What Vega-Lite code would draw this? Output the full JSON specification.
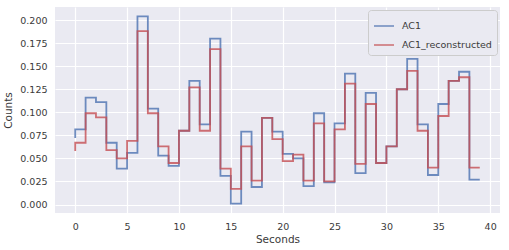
{
  "$schema": "https://vega.github.io/schema/vega-lite/v6.json",
  "autosize": "none",
  "width": 445,
  "height": 206,
  "padding": {"left": 55, "top": 7, "right": 9, "bottom": 37},
  "background": "white",
  "config": {
    "view": {"fill": "#EAEAF2", "stroke": null},
    "font": "DejaVu Sans",
    "axis": {
      "domain": false,
      "ticks": false,
      "grid": true,
      "gridColor": "white",
      "gridWidth": 1.2,
      "labelFont": "DejaVu Sans",
      "labelFontSize": 9.5,
      "labelColor": "#3a3a3a",
      "titleFont": "DejaVu Sans",
      "titleFontSize": 10.5,
      "titleFontWeight": "normal",
      "titleColor": "#3a3a3a",
      "labelPadding": 8
    },
    "legend": {
      "orient": "top-right",
      "offset": 3,
      "fillColor": "#EAEAF2",
      "strokeColor": "#CCCCCC",
      "cornerRadius": 3,
      "padding": 5,
      "labelFont": "DejaVu Sans",
      "labelFontSize": 9.5,
      "labelColor": "#3a3a3a",
      "symbolType": "stroke",
      "symbolSize": 400,
      "symbolStrokeWidth": 1.5,
      "labelOffset": 7,
      "rowPadding": 3
    }
  },
  "data": {
    "values": [
      {"t":0,"series":"AC1","v":0.072},{"t":1,"series":"AC1","v":0.0815},{"t":2,"series":"AC1","v":0.116},{"t":3,"series":"AC1","v":0.111},{"t":4,"series":"AC1","v":0.067},
      {"t":5,"series":"AC1","v":0.039},{"t":6,"series":"AC1","v":0.056},{"t":7,"series":"AC1","v":0.204},{"t":8,"series":"AC1","v":0.104},{"t":9,"series":"AC1","v":0.053},
      {"t":10,"series":"AC1","v":0.042},{"t":11,"series":"AC1","v":0.080},{"t":12,"series":"AC1","v":0.134},{"t":13,"series":"AC1","v":0.087},{"t":14,"series":"AC1","v":0.180},
      {"t":15,"series":"AC1","v":0.031},{"t":16,"series":"AC1","v":0.001},{"t":17,"series":"AC1","v":0.079},{"t":18,"series":"AC1","v":0.019},{"t":19,"series":"AC1","v":0.094},
      {"t":20,"series":"AC1","v":0.079},{"t":21,"series":"AC1","v":0.055},{"t":22,"series":"AC1","v":0.050},{"t":23,"series":"AC1","v":0.020},{"t":24,"series":"AC1","v":0.099},
      {"t":25,"series":"AC1","v":0.024},{"t":26,"series":"AC1","v":0.088},{"t":27,"series":"AC1","v":0.142},{"t":28,"series":"AC1","v":0.034},{"t":29,"series":"AC1","v":0.121},
      {"t":30,"series":"AC1","v":0.045},{"t":31,"series":"AC1","v":0.063},{"t":32,"series":"AC1","v":0.125},{"t":33,"series":"AC1","v":0.158},{"t":34,"series":"AC1","v":0.087},
      {"t":35,"series":"AC1","v":0.032},{"t":36,"series":"AC1","v":0.109},{"t":37,"series":"AC1","v":0.134},{"t":38,"series":"AC1","v":0.144},{"t":39,"series":"AC1","v":0.027},
      {"t":0,"series":"AC1_reconstructed","v":0.058},{"t":1,"series":"AC1_reconstructed","v":0.067},{"t":2,"series":"AC1_reconstructed","v":0.099},{"t":3,"series":"AC1_reconstructed","v":0.0945},{"t":4,"series":"AC1_reconstructed","v":0.059},
      {"t":5,"series":"AC1_reconstructed","v":0.050},{"t":6,"series":"AC1_reconstructed","v":0.069},{"t":7,"series":"AC1_reconstructed","v":0.188},{"t":8,"series":"AC1_reconstructed","v":0.099},{"t":9,"series":"AC1_reconstructed","v":0.063},
      {"t":10,"series":"AC1_reconstructed","v":0.045},{"t":11,"series":"AC1_reconstructed","v":0.080},{"t":12,"series":"AC1_reconstructed","v":0.127},{"t":13,"series":"AC1_reconstructed","v":0.080},{"t":14,"series":"AC1_reconstructed","v":0.1685},
      {"t":15,"series":"AC1_reconstructed","v":0.039},{"t":16,"series":"AC1_reconstructed","v":0.017},{"t":17,"series":"AC1_reconstructed","v":0.063},{"t":18,"series":"AC1_reconstructed","v":0.026},{"t":19,"series":"AC1_reconstructed","v":0.094},
      {"t":20,"series":"AC1_reconstructed","v":0.071},{"t":21,"series":"AC1_reconstructed","v":0.047},{"t":22,"series":"AC1_reconstructed","v":0.054},{"t":23,"series":"AC1_reconstructed","v":0.026},{"t":24,"series":"AC1_reconstructed","v":0.088},
      {"t":25,"series":"AC1_reconstructed","v":0.025},{"t":26,"series":"AC1_reconstructed","v":0.0815},{"t":27,"series":"AC1_reconstructed","v":0.131},{"t":28,"series":"AC1_reconstructed","v":0.044},{"t":29,"series":"AC1_reconstructed","v":0.109},
      {"t":30,"series":"AC1_reconstructed","v":0.045},{"t":31,"series":"AC1_reconstructed","v":0.063},{"t":32,"series":"AC1_reconstructed","v":0.125},{"t":33,"series":"AC1_reconstructed","v":0.145},{"t":34,"series":"AC1_reconstructed","v":0.080},
      {"t":35,"series":"AC1_reconstructed","v":0.040},{"t":36,"series":"AC1_reconstructed","v":0.096},{"t":37,"series":"AC1_reconstructed","v":0.134},{"t":38,"series":"AC1_reconstructed","v":0.138},{"t":39,"series":"AC1_reconstructed","v":0.040}
    ]
  },
  "mark": {"type": "line", "interpolate": "step-before", "strokeWidth": 1.8, "opacity": 0.8},
  "encoding": {
    "x": {
      "field": "t", "type": "quantitative", "title": "Seconds",
      "scale": {"domain": [-1.95, 40.95], "nice": false, "zero": false},
      "axis": {"values": [0,5,10,15,20,25,30,35,40], "format": "d", "titlePadding": 4}
    },
    "y": {
      "field": "v", "type": "quantitative", "title": "Counts",
      "scale": {"domain": [-0.0092, 0.2142], "nice": false, "zero": false},
      "axis": {"values": [0,0.025,0.05,0.075,0.1,0.125,0.15,0.175,0.2], "format": ".3f", "titlePadding": 6}
    },
    "color": {
      "field": "series", "type": "nominal", "title": null,
      "scale": {"domain": ["AC1", "AC1_reconstructed"], "range": ["#4C72B0", "#C44E52"]}
    }
  }
}
